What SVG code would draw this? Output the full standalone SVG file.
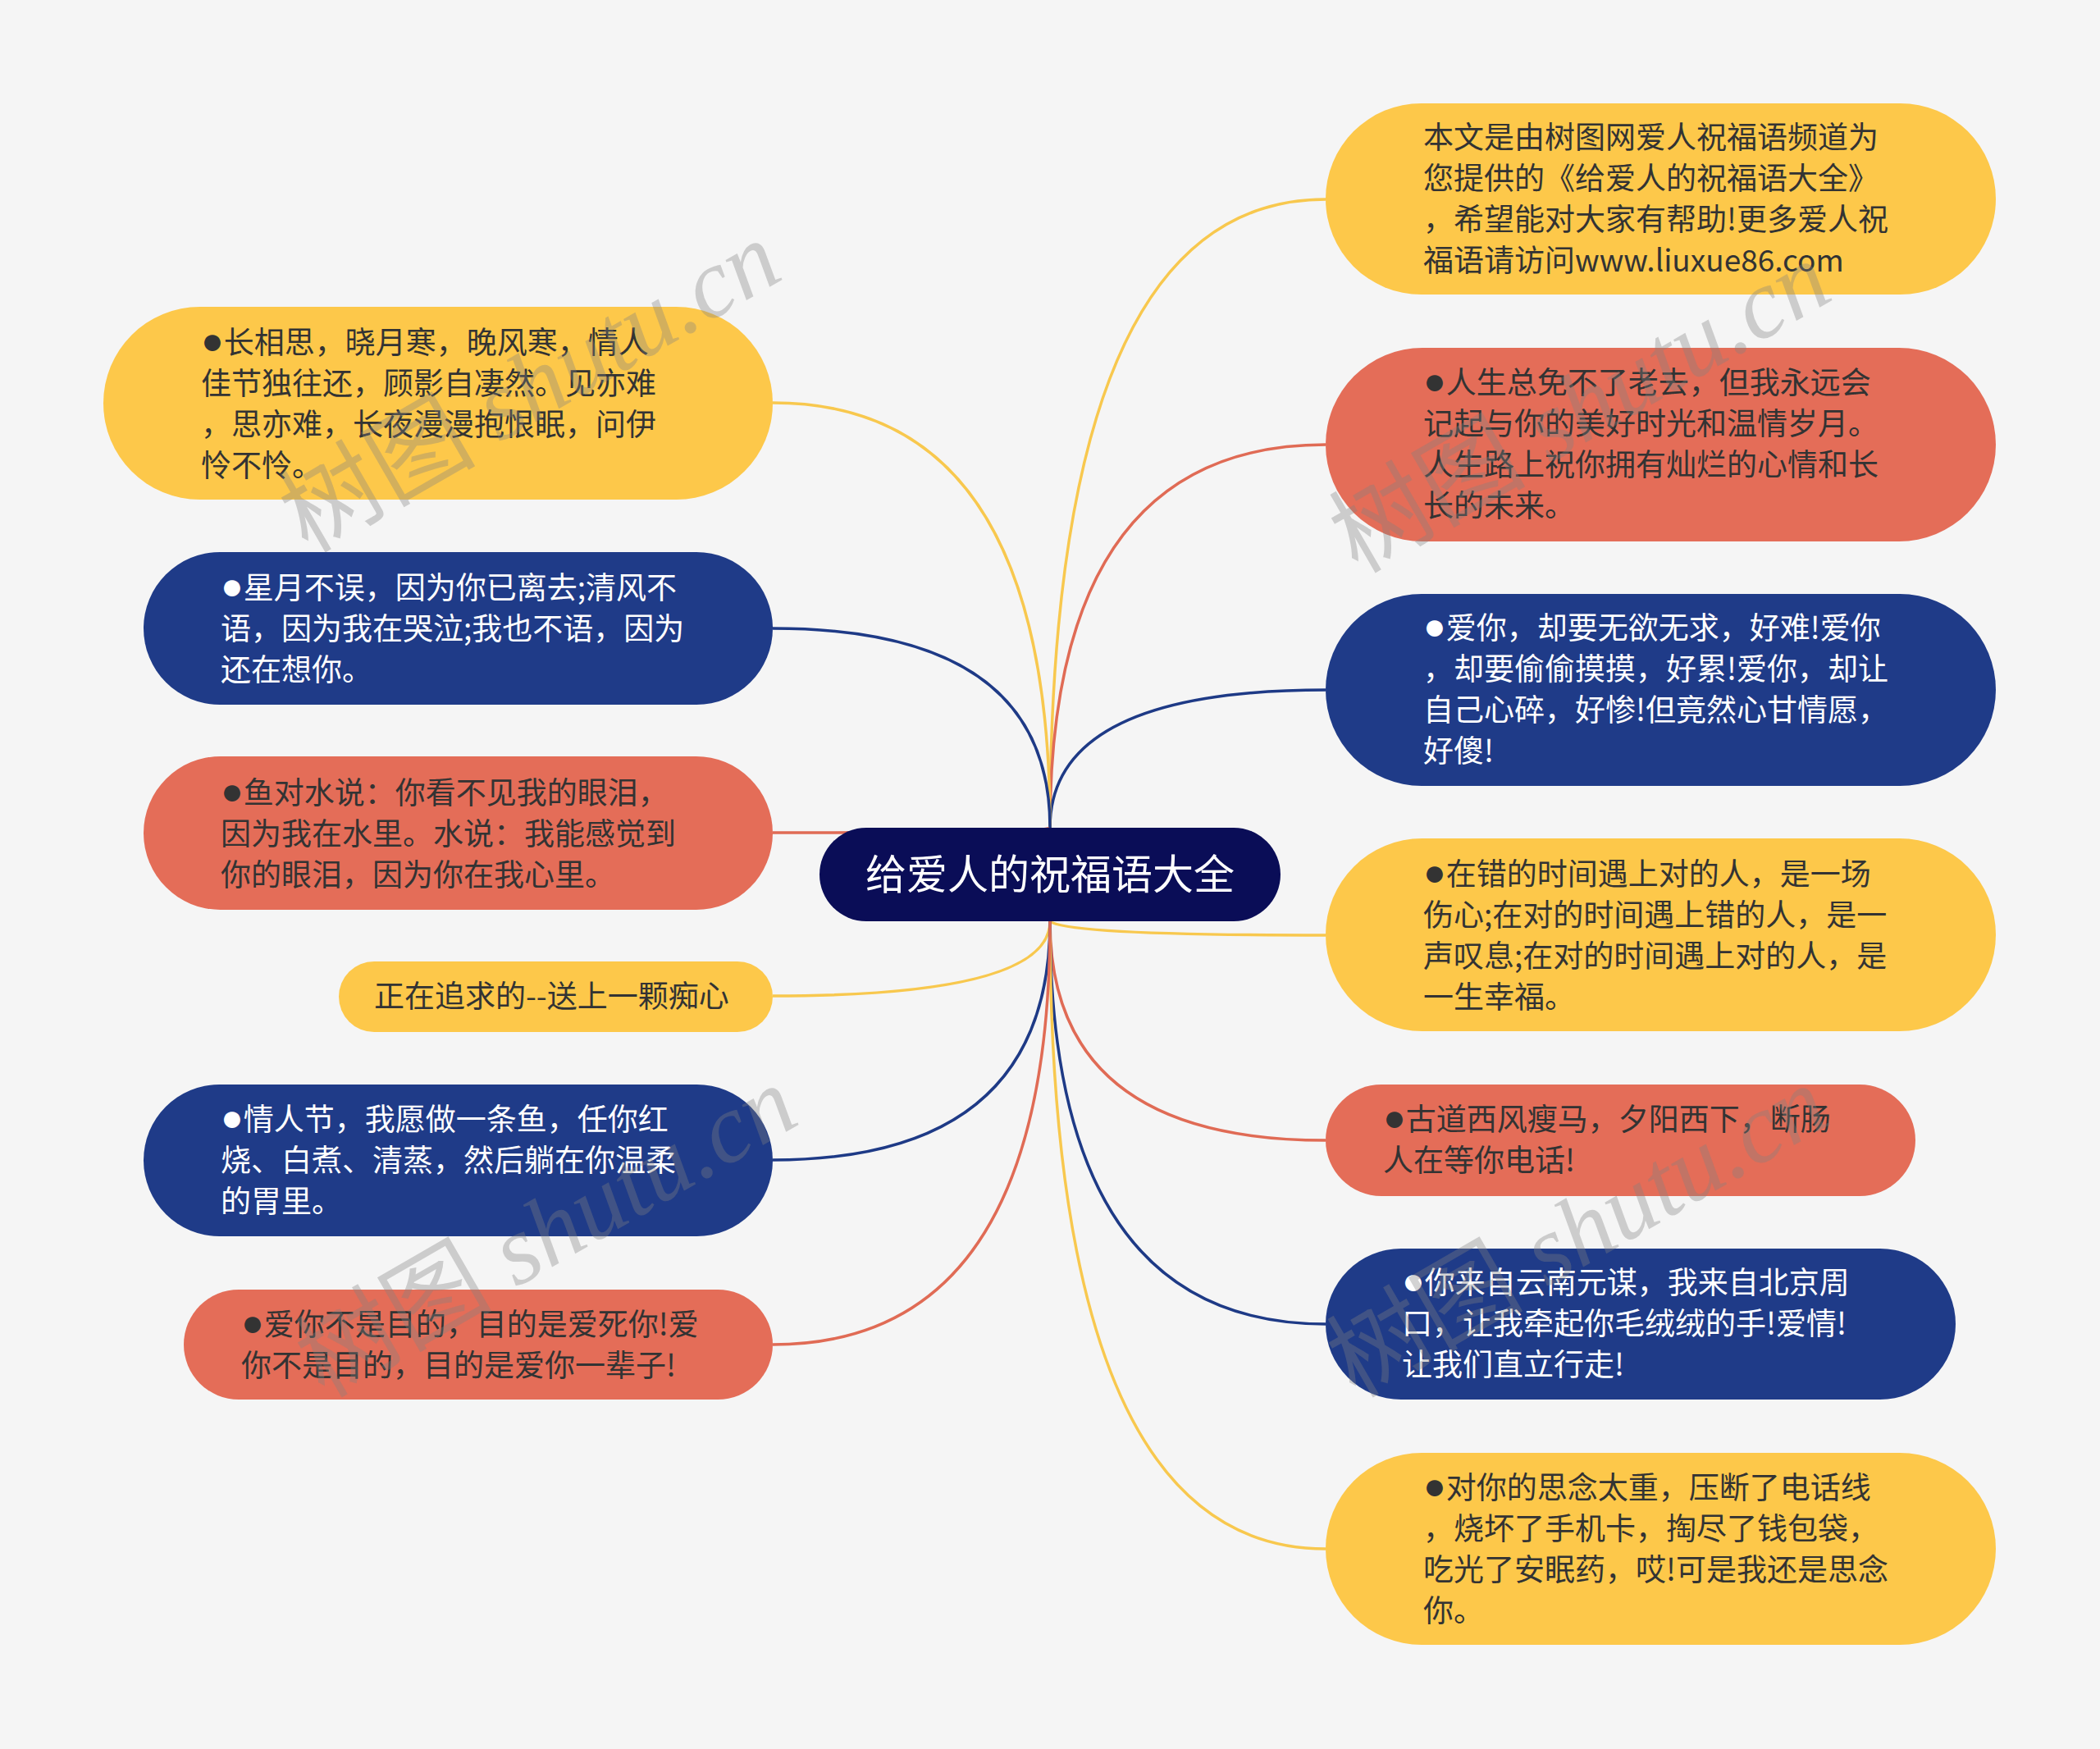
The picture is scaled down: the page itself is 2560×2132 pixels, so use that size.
<svg xmlns="http://www.w3.org/2000/svg" width="2560" height="2132" viewBox="0 0 2560 2132">
<style>
.bg{fill:#f5f5f5}
.y{fill:#fdc84a}
.r{fill:#e46d58}
.b{fill:#1f3b88}
.c{fill:#0a0d57}
.t{font-family:"Noto Sans CJK SC","Noto Sans",sans-serif;font-size:37px}
.dk{fill:#333333}
.wt{fill:#ffffff}
.bul{font-family:"Liberation Sans",sans-serif;font-size:46px}
.ln{fill:none;stroke-width:3.5}
.ly{stroke:#f8c84e}
.lr{stroke:#e06b55}
.lb{stroke:#1e3a86}
.wm{font-family:"Liberation Serif","Noto Sans CJK SC",serif;font-size:120px;fill:#808080;fill-opacity:0.35}
.wmi{font-style:italic}
</style>
<rect class="bg" x="0" y="0" width="2560" height="2132"/>
<g id="connectors">
<path class="ln ly" d="M1280 1009 Q1280 243 1616 243"/>
<path class="ln lr" d="M1280 1009 Q1280 542 1616 542"/>
<path class="ln lb" d="M1280 1009 Q1280 841 1616 841"/>
<path class="ln ly" d="M1280 1123 Q1300 1140 1616 1140"/>
<path class="ln lr" d="M1280 1123 Q1280 1390 1616 1390"/>
<path class="ln lb" d="M1280 1123 Q1280 1614 1616 1614"/>
<path class="ln ly" d="M1280 1123 Q1280 1888 1616 1888"/>
<path class="ln ly" d="M1280 1009 Q1280 491 942 491"/>
<path class="ln lb" d="M1280 1009 Q1280 766 942 766"/>
<path class="ln lr" d="M1280 1009 Q1280 1015 942 1015"/>
<path class="ln ly" d="M1280 1123 Q1280 1214 942 1214"/>
<path class="ln lb" d="M1280 1123 Q1280 1414 942 1414"/>
<path class="ln lr" d="M1280 1123 Q1280 1639 942 1639"/>
</g>
<g id="center">
<rect class="c" x="999" y="1009" width="562" height="114" rx="57"/>
<text x="1280" y="1084" text-anchor="middle" style="font-family:'Noto Sans CJK SC',sans-serif;font-size:50px" fill="#ffffff">给爱人的祝福语大全</text>
</g>
<g id="r1">
<rect class="y" x="1616" y="126" width="817" height="233" rx="116.5"/>
<text class="t dk"><tspan x="1735" y="181">本文是由树图网爱人祝福语频道为</tspan><tspan x="1735" y="231">您提供的《给爱人的祝福语大全》</tspan><tspan x="1735" y="281">，希望能对大家有帮助!更多爱人祝</tspan><tspan x="1735" y="331">福语请访问www.liuxue86.com</tspan></text>
</g>
<g id="r2">
<rect class="r" x="1616" y="424" width="817" height="236" rx="118"/>
<text class="t dk"><tspan x="1735" y="480"><tspan class="bul">●</tspan>人生总免不了老去，但我永远会</tspan><tspan x="1735" y="530">记起与你的美好时光和温情岁月。</tspan><tspan x="1735" y="580">人生路上祝你拥有灿烂的心情和长</tspan><tspan x="1735" y="630">长的未来。</tspan></text>
</g>
<g id="r3">
<rect class="b" x="1616" y="724" width="817" height="234" rx="117"/>
<text class="t wt"><tspan x="1735" y="779"><tspan class="bul">●</tspan>爱你，却要无欲无求，好难!爱你</tspan><tspan x="1735" y="829">，却要偷偷摸摸，好累!爱你，却让</tspan><tspan x="1735" y="879">自己心碎，好惨!但竟然心甘情愿，</tspan><tspan x="1735" y="929">好傻!</tspan></text>
</g>
<g id="r4">
<rect class="y" x="1616" y="1022" width="817" height="235" rx="117.5"/>
<text class="t dk"><tspan x="1735" y="1079"><tspan class="bul">●</tspan>在错的时间遇上对的人，是一场</tspan><tspan x="1735" y="1129">伤心;在对的时间遇上错的人，是一</tspan><tspan x="1735" y="1179">声叹息;在对的时间遇上对的人，是</tspan><tspan x="1735" y="1229">一生幸福。</tspan></text>
</g>
<g id="r5">
<rect class="r" x="1616" y="1322" width="719" height="136" rx="68"/>
<text class="t dk"><tspan x="1686" y="1378"><tspan class="bul">●</tspan>古道西风瘦马，夕阳西下，断肠</tspan><tspan x="1686" y="1428">人在等你电话!</tspan></text>
</g>
<g id="r6">
<rect class="b" x="1616" y="1522" width="768" height="184" rx="92"/>
<text class="t wt"><tspan x="1709" y="1577"><tspan class="bul">●</tspan>你来自云南元谋，我来自北京周</tspan><tspan x="1709" y="1627">口，让我牵起你毛绒绒的手!爱情!</tspan><tspan x="1709" y="1677">让我们直立行走!</tspan></text>
</g>
<g id="r7">
<rect class="y" x="1616" y="1771" width="817" height="234" rx="117"/>
<text class="t dk"><tspan x="1735" y="1827"><tspan class="bul">●</tspan>对你的思念太重，压断了电话线</tspan><tspan x="1735" y="1877">，烧坏了手机卡，掏尽了钱包袋，</tspan><tspan x="1735" y="1927">吃光了安眠药，哎!可是我还是思念</tspan><tspan x="1735" y="1977">你。</tspan></text>
</g>
<g id="l1">
<rect class="y" x="126" y="374" width="816" height="235" rx="117.5"/>
<text class="t dk"><tspan x="245" y="431"><tspan class="bul">●</tspan>长相思，晓月寒，晚风寒，情人</tspan><tspan x="245" y="481">佳节独往还，顾影自凄然。见亦难</tspan><tspan x="245" y="531">，思亦难，长夜漫漫抱恨眠，问伊</tspan><tspan x="245" y="581">怜不怜。</tspan></text>
</g>
<g id="l2">
<rect class="b" x="175" y="673" width="767" height="186" rx="93"/>
<text class="t wt"><tspan x="269" y="730"><tspan class="bul">●</tspan>星月不误，因为你已离去;清风不</tspan><tspan x="269" y="780">语，因为我在哭泣;我也不语，因为</tspan><tspan x="269" y="830">还在想你。</tspan></text>
</g>
<g id="l3">
<rect class="r" x="175" y="922" width="767" height="187" rx="93.5"/>
<text class="t dk"><tspan x="269" y="980"><tspan class="bul">●</tspan>鱼对水说：你看不见我的眼泪，</tspan><tspan x="269" y="1030">因为我在水里。水说：我能感觉到</tspan><tspan x="269" y="1080">你的眼泪，因为你在我心里。</tspan></text>
</g>
<g id="l4">
<rect class="y" x="413" y="1172" width="529" height="86" rx="43"/>
<text class="t dk" x="456" y="1228">正在追求的--送上一颗痴心</text>
</g>
<g id="l5">
<rect class="b" x="175" y="1322" width="767" height="185" rx="92.5"/>
<text class="t wt"><tspan x="269" y="1378"><tspan class="bul">●</tspan>情人节，我愿做一条鱼，任你红</tspan><tspan x="269" y="1428">烧、白煮、清蒸，然后躺在你温柔</tspan><tspan x="269" y="1478">的胃里。</tspan></text>
</g>
<g id="l6">
<rect class="r" x="224" y="1572" width="718" height="134" rx="67"/>
<text class="t dk"><tspan x="294" y="1628"><tspan class="bul">●</tspan>爱你不是目的，目的是爱死你!爱</tspan><tspan x="294" y="1678">你不是目的，目的是爱你一辈子!</tspan></text>
</g>
<g id="watermarks">
<text class="wm" transform="translate(375 675) rotate(-30)">树图 <tspan class="wmi">shutu.cn</tspan></text>
<text class="wm" transform="translate(1655 700) rotate(-30)">树图 <tspan class="wmi">shutu.cn</tspan></text>
<text class="wm" transform="translate(395 1705) rotate(-30)">树图 <tspan class="wmi">shutu.cn</tspan></text>
<text class="wm" transform="translate(1652 1705) rotate(-30)">树图 <tspan class="wmi">shutu.cn</tspan></text>
</g>
</svg>
